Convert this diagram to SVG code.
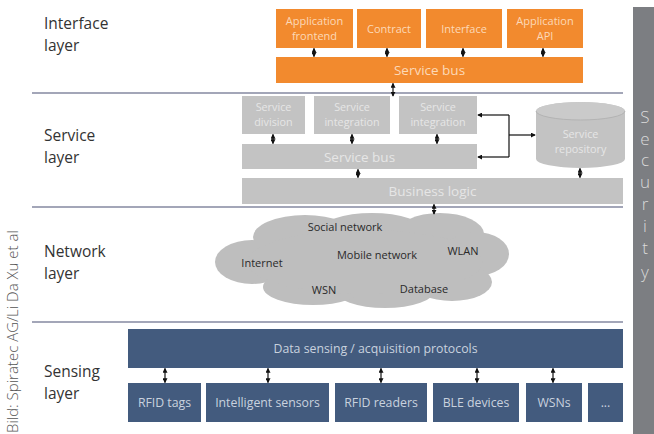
<svg xmlns="http://www.w3.org/2000/svg" width="654" height="434" viewBox="0 0 654 434">
  <defs>
    <marker id="ah" viewBox="0 0 6 6" refX="5" refY="3" markerWidth="5" markerHeight="5" markerUnits="userSpaceOnUse" orient="auto-start-reverse">
      <path d="M0,0 L6,3 L0,6 z" fill="#111"/>
    </marker>
    <style>
      .lbl { font-family: "Open Sans", "Noto Sans", "DejaVu Sans", sans-serif; font-size: 15.5px; fill: #333; }
      .div { stroke: #a3a6b8; stroke-width: 2; }
      .orange { fill: #f28a2e; }
      .otxt { font-family: "Open Sans", "Noto Sans", sans-serif; font-size: 11px; fill: #fcd9b8; text-anchor: middle; }
      .grey { fill: #c3c3c3; }
      .gtxt { font-family: "Open Sans", "Noto Sans", sans-serif; font-size: 10.8px; fill: #e6e6e6; text-anchor: middle; }
      .navy { fill: #435b7e; }
      .ntxt { font-family: "Open Sans", "Noto Sans", sans-serif; font-size: 12.3px; fill: #c9d2de; text-anchor: middle; }
      .ctxt { font-family: "Open Sans", "Noto Sans", sans-serif; font-size: 11px; fill: #2a2a2a; text-anchor: middle; }
      .big { font-size: 13.5px; }
      .dbl { stroke: #111; stroke-width: 1.2; fill: none; marker-start: url(#ah); marker-end: url(#ah); }
      .one { stroke: #111; stroke-width: 1.2; fill: none; }
      .sec { font-family: "Open Sans", "Noto Sans", sans-serif; font-size: 17px; font-weight: 300; fill: #dadada; text-anchor: middle; }
    </style>
  </defs>

  <rect width="654" height="434" fill="#ffffff"/>

  <!-- security column -->
  <g id="security">
    <rect x="633" y="7" width="21" height="427" fill="#7c7e82"/>
    <text class="sec" x="645" y="123">S</text>
    <text class="sec" x="645" y="145">e</text>
    <text class="sec" x="645" y="166">c</text>
    <text class="sec" x="645" y="188">u</text>
    <text class="sec" x="645" y="210">r</text>
    <text class="sec" x="645" y="232">i</text>
    <text class="sec" x="645" y="254">t</text>
    <text class="sec" x="645" y="278">y</text>
  </g>

  <!-- layer separators -->
  <g id="separators">
    <line class="div" x1="32" y1="93" x2="623" y2="93"/>
    <line class="div" x1="32" y1="207" x2="623" y2="207"/>
    <line class="div" x1="32" y1="322" x2="623" y2="322"/>
  </g>

  <!-- layer titles -->
  <g id="layer-labels">
    <text class="lbl" x="44" y="29">Interface</text>
    <text class="lbl" x="44" y="51">layer</text>
    <text class="lbl" x="44" y="141">Service</text>
    <text class="lbl" x="44" y="163">layer</text>
    <text class="lbl" x="44" y="257">Network</text>
    <text class="lbl" x="44" y="279">layer</text>
    <text class="lbl" x="44" y="377">Sensing</text>
    <text class="lbl" x="44" y="399">layer</text>
  </g>

  <!-- image credit -->
  <text id="credit" transform="translate(18,433) rotate(-90)" font-family="'Open Sans', 'Noto Sans', sans-serif" font-size="15" font-weight="300" fill="#555">Bild: Spiratec AG/Li Da Xu et al</text>

  <!-- interface layer -->
  <g id="app-frontend">
    <rect class="orange" x="276" y="9" width="77" height="39"/>
    <text class="otxt" x="314.5" y="25">Application</text>
    <text class="otxt" x="314.5" y="40">frontend</text>
  </g>
  <g id="contract">
    <rect class="orange" x="357" y="9" width="64" height="39"/>
    <text class="otxt" x="389" y="32.5">Contract</text>
  </g>
  <g id="interface">
    <rect class="orange" x="426" y="9" width="76" height="39"/>
    <text class="otxt" x="464" y="32.5">Interface</text>
  </g>
  <g id="app-api">
    <rect class="orange" x="507" y="9" width="76" height="39"/>
    <text class="otxt" x="545" y="25">Application</text>
    <text class="otxt" x="545" y="40">API</text>
  </g>
  <g id="iface-bus">
    <rect class="orange" x="276" y="57" width="307" height="26"/>
    <text class="otxt big" x="429.5" y="75">Service bus</text>
  </g>

  <!-- service layer -->
  <g id="service-division">
    <rect class="grey" x="242" y="96" width="63" height="38"/>
    <text class="gtxt" x="273.5" y="111">Service</text>
    <text class="gtxt" x="273.5" y="126">division</text>
  </g>
  <g id="service-integration-1">
    <rect class="grey" x="314" y="96" width="76" height="38"/>
    <text class="gtxt" x="352" y="111">Service</text>
    <text class="gtxt" x="352" y="126">integration</text>
  </g>
  <g id="service-integration-2">
    <rect class="grey" x="399" y="96" width="78" height="38"/>
    <text class="gtxt" x="438" y="111">Service</text>
    <text class="gtxt" x="438" y="126">integration</text>
  </g>
  <g id="service-bus">
    <rect class="grey" x="242" y="144" width="235" height="25"/>
    <text class="gtxt big" x="359.5" y="161.5">Service bus</text>
  </g>
  <g id="business-logic">
    <rect class="grey" x="242" y="178" width="381" height="26"/>
    <text class="gtxt big" x="432.5" y="196">Business logic</text>
  </g>
  <g id="service-repository">
    <path class="grey" d="M536,111 A44.5,9 0 0 1 625,111 L625,159 A44.5,9 0 0 1 536,159 Z"/>
    <ellipse cx="580.5" cy="111" rx="44.5" ry="9" fill="#cacaca"/>
    <path d="M536,111 A44.5,9 0 0 0 625,111" fill="none" stroke="#b3b3b3" stroke-width="1"/>
    <text class="gtxt" x="580.5" y="138">Service</text>
    <text class="gtxt" x="580.5" y="153">repository</text>
  </g>

  <!-- network layer -->
  <g id="network-cloud">
    <g fill="#bebebe">
      <ellipse cx="252" cy="262" rx="37" ry="22"/>
      <ellipse cx="305" cy="237" rx="52" ry="22"/>
      <ellipse cx="372" cy="231" rx="52" ry="18"/>
      <ellipse cx="440" cy="234" rx="44" ry="21"/>
      <ellipse cx="476" cy="254" rx="33" ry="22"/>
      <ellipse cx="452" cy="282" rx="40" ry="19"/>
      <ellipse cx="385" cy="290" rx="50" ry="18"/>
      <ellipse cx="313" cy="287" rx="50" ry="18"/>
      <ellipse cx="365" cy="262" rx="118" ry="32"/>
    </g>
    <text class="ctxt" x="345" y="231">Social network</text>
    <text class="ctxt" x="377" y="259">Mobile network</text>
    <text class="ctxt" x="463" y="255">WLAN</text>
    <text class="ctxt" x="262" y="267">Internet</text>
    <text class="ctxt" x="324" y="294">WSN</text>
    <text class="ctxt" x="424" y="293">Database</text>
  </g>

  <!-- sensing layer -->
  <g id="data-sensing">
    <rect class="navy" x="128" y="329" width="495" height="39"/>
    <text class="ntxt" x="375.5" y="353">Data sensing / acquisition protocols</text>
  </g>
  <g id="rfid-tags">
    <rect class="navy" x="128" y="383" width="73" height="39"/>
    <text class="ntxt" x="164.5" y="407">RFID tags</text>
  </g>
  <g id="intelligent-sensors">
    <rect class="navy" x="206" y="383" width="123" height="39"/>
    <text class="ntxt" x="267.5" y="407">Intelligent sensors</text>
  </g>
  <g id="rfid-readers">
    <rect class="navy" x="335" y="383" width="92" height="39"/>
    <text class="ntxt" x="381" y="407">RFID readers</text>
  </g>
  <g id="ble-devices">
    <rect class="navy" x="433" y="383" width="86" height="39"/>
    <text class="ntxt" x="476" y="407">BLE devices</text>
  </g>
  <g id="wsns">
    <rect class="navy" x="526" y="383" width="56" height="39"/>
    <text class="ntxt" x="554" y="407">WSNs</text>
  </g>
  <g id="more">
    <rect class="navy" x="588" y="383" width="35" height="39"/>
    <text class="ntxt" x="605.5" y="407">...</text>
  </g>

  <!-- connectors -->
  <g id="connectors">
    <line class="dbl" x1="314" y1="48.5" x2="314" y2="56.5"/>
    <line class="dbl" x1="387" y1="48.5" x2="387" y2="56.5"/>
    <line class="dbl" x1="463" y1="48.5" x2="463" y2="56.5"/>
    <line class="dbl" x1="543" y1="48.5" x2="543" y2="56.5"/>
    <line class="dbl" x1="393" y1="83.5" x2="393" y2="96"/>

    <line class="dbl" x1="273" y1="134.5" x2="273" y2="143.5"/>
    <line class="dbl" x1="352" y1="134.5" x2="352" y2="143.5"/>
    <line class="dbl" x1="437" y1="134.5" x2="437" y2="143.5"/>
    <line class="dbl" x1="358" y1="169.5" x2="358" y2="177.5"/>
    <line class="dbl" x1="580" y1="168.5" x2="580" y2="177.5"/>
    <line class="dbl" x1="434" y1="204.5" x2="434" y2="214"/>

    <polyline class="one" points="509,115 509,157" />
    <line class="one" x1="509" y1="115" x2="478" y2="115" marker-end="url(#ah)"/>
    <line class="one" x1="509" y1="157" x2="478" y2="157" marker-end="url(#ah)"/>
    <line class="one" x1="509" y1="135" x2="535" y2="135" marker-end="url(#ah)"/>

    <line class="dbl" x1="165" y1="368.5" x2="165" y2="382.5"/>
    <line class="dbl" x1="268" y1="368.5" x2="268" y2="382.5"/>
    <line class="dbl" x1="381" y1="368.5" x2="381" y2="382.5"/>
    <line class="dbl" x1="477" y1="368.5" x2="477" y2="382.5"/>
    <line class="dbl" x1="553" y1="368.5" x2="553" y2="382.5"/>
  </g>
</svg>
